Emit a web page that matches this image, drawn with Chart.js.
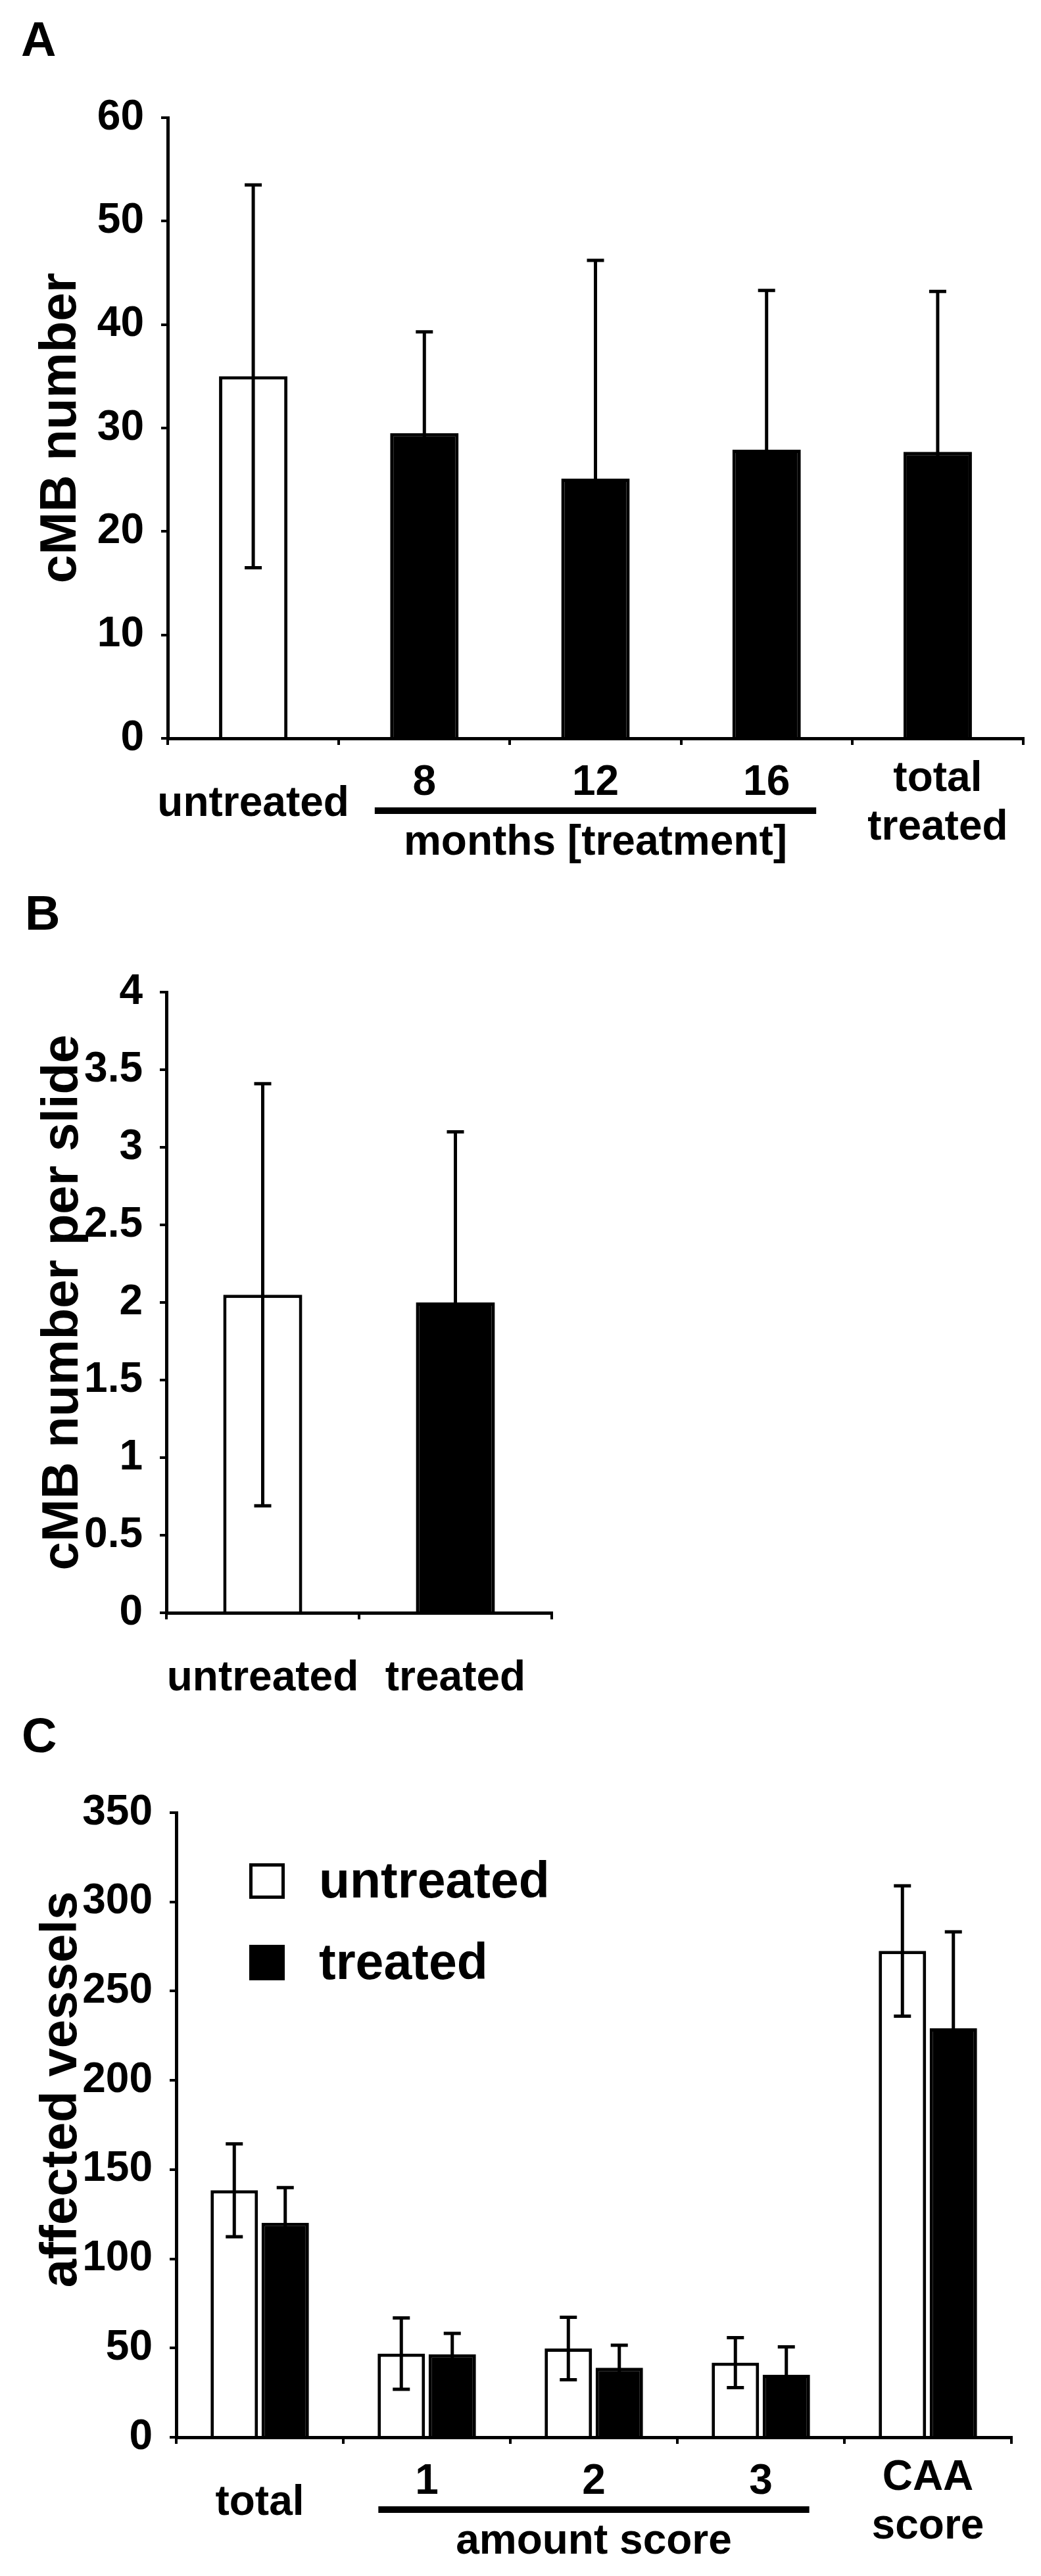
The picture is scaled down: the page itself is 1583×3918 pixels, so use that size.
<!DOCTYPE html>
<html>
<head>
<meta charset="utf-8">
<script src="https://cdn.jsdelivr.net/npm/chart.js@4.4.1/dist/chart.umd.min.js"></script>
<style>
    body { margin: 0; background: #fff; }
    #page { position: relative; width: 1583px; height: 3918px; }
    canvas { position: absolute; left: 0; }
</style>
</head>
<body>
<div id="page">
    <canvas id="chart-a" width="1583" height="1340" style="top:0"></canvas>
    <canvas id="chart-b" width="1583" height="1260" style="top:1340px"></canvas>
    <canvas id="chart-c" width="1583" height="1318" style="top:2600px"></canvas>
</div>
<script>
// Данные панели A
const categoriesA = ['untreated', '8', '12', '16', ['total', 'treated']];
const meansA = [35.0, 29.5, 25.1, 27.9, 27.7];
const sdA = [18.5, 9.8, 21.1, 15.4, 15.5];
const yTicksA = [0, 10, 20, 30, 40, 50, 60];

// Данные панели B
const categoriesB = ['untreated', 'treated'];
const meansB = [2.05, 2.0];
const sdB = [1.36, 1.1];
const yTicksB = [0, 0.5, 1, 1.5, 2, 2.5, 3, 3.5, 4];

// Данные панели C
const categoriesC = ['total', '1', '2', '3', ['CAA', 'score']];
const untreatedC = [138.4, 46.9, 49.7, 41.8, 272.5];
const untreatedSdC = [26, 20, 17.5, 14, 36.5];
const treatedC = [120.2, 46.5, 39.0, 35.0, 229.2];
const treatedSdC = [19.7, 11.7, 12.6, 15.7, 54];
const yTicksC = [0, 50, 100, 150, 200, 250, 300, 350];

const FONT = '"Liberation Sans", Arial, sans-serif';
Chart.defaults.font.family = FONT;
Chart.defaults.font.weight = 'bold';
Chart.defaults.color = '#000';

// Планки погрешностей
const errorBars = {
    id: 'errorBars',
    afterDatasetsDraw(chart) {
        const ctx = chart.ctx;
        const y = chart.scales.y;
        chart.data.datasets.forEach((ds, di) => {
            chart.getDatasetMeta(di).data.forEach((bar, i) => {
                const top = y.getPixelForValue(ds.data[i] + ds.errors[i]);
                const bottom = y.getPixelForValue(ds.data[i] - ds.errors[i]);
                ctx.save();
                ctx.strokeStyle = '#000';
                ctx.lineWidth = 5;
                ctx.beginPath();
                ctx.moveTo(bar.x, top);
                ctx.lineTo(bar.x, bottom);
                ctx.moveTo(bar.x - 13, top);
                ctx.lineTo(bar.x + 13, top);
                ctx.moveTo(bar.x - 13, bottom);
                ctx.lineTo(bar.x + 13, bottom);
                ctx.stroke();
                ctx.restore();
            });
        });
    }
};

// Подписи: буква панели, заголовок оси, категории, скобка группы, легенда
function figureText(spec) {
    return {
        id: 'figureText',
        afterDraw(chart) {
            const ctx = chart.ctx;
            const x = chart.scales.x;
            const area = chart.chartArea;
            const base = area.bottom;
            ctx.save();
            ctx.fillStyle = '#000';
            ctx.textBaseline = 'alphabetic';

            ctx.font = 'bold 74px ' + FONT;
            ctx.textAlign = 'left';
            ctx.fillText(spec.panel, spec.panelX, spec.panelY);

            ctx.save();
            ctx.font = 'bold 78px ' + FONT;
            ctx.translate(spec.titleX, (area.top + area.bottom) / 2 + spec.titleShift);
            ctx.rotate(-Math.PI / 2);
            ctx.textAlign = 'center';
            ctx.fillText(spec.yTitle, 0, 0);
            ctx.restore();

            ctx.font = 'bold 64px ' + FONT;
            ctx.textAlign = 'center';
            chart.data.labels.forEach((lab, i) => {
                const cx = x.getPixelForValue(i);
                const lines = Array.isArray(lab) ? lab : [lab];
                const inGroup = spec.group && i >= spec.group.from && i <= spec.group.to;
                if (inGroup) {
                    ctx.fillText(lines[0], cx, base + 86);
                } else if (lines.length === 2) {
                    ctx.fillText(lines[0], cx, base + 80);
                    ctx.fillText(lines[1], cx, base + 154);
                } else {
                    ctx.fillText(lines[0], cx, base + 118);
                }
            });

            if (spec.group) {
                const w = x.getPixelForValue(1) - x.getPixelForValue(0);
                const x0 = x.getPixelForValue(spec.group.from) - w / 2 + w * 0.21;
                const x1 = x.getPixelForValue(spec.group.to) + w / 2 - w * 0.21;
                ctx.fillRect(x0, base + 105, x1 - x0, 10);
                ctx.fillText(spec.group.label, (x0 + x1) / 2, base + 177);
            }

            if (spec.legend) {
                ctx.font = 'bold 77px ' + FONT;
                ctx.textAlign = 'left';
                chart.data.datasets.forEach((ds, di) => {
                    const bx = area.left + 111;
                    const by = area.top + 77 + di * 124;
                    ctx.fillStyle = ds.backgroundColor;
                    ctx.fillRect(bx, by, 54, 54);
                    ctx.strokeStyle = '#000';
                    ctx.lineWidth = 5;
                    ctx.strokeRect(bx + 2.5, by + 2.5, 49, 49);
                    ctx.fillStyle = '#000';
                    ctx.fillText(ds.label, area.left + 217, area.top + 129 + di * 124);
                });
            }
            ctx.restore();
        }
    };
}

function axisOptions(area, canvasH, yTicks) {
    const grid = {
        display: true,
        drawOnChartArea: false,
        drawTicks: true,
        tickLength: 10,
        color: '#000',
        lineWidth: 4
    };
    const border = { display: true, color: '#000', width: 5 };
    return {
        x: {
            z: 1,
            grid: Object.assign({ offset: true }, grid),
            border: border,
            ticks: { display: false },
            afterFit: s => { s.height = canvasH - area.bottom; }
        },
        y: {
            min: 0,
            max: yTicks[yTicks.length - 1],
            grid: grid,
            border: border,
            ticks: {
                padding: 26,
                color: '#000',
                font: { size: 64, weight: 'bold' },
                callback: v => String(v)
            },
            afterBuildTicks: s => { s.ticks = yTicks.map(v => ({ value: v })); },
            afterFit: s => { s.width = area.left; }
        }
    };
}

function createChart(id, area, canvasH, labels, datasets, yTicks, spec) {
    const ctx = document.getElementById(id).getContext('2d');
    return new Chart(ctx, {
        type: 'bar',
        data: { labels: labels, datasets: datasets },
        options: {
            responsive: false,
            animation: false,
            layout: { padding: { left: 0, top: area.top, right: 1583 - area.right, bottom: 0 } },
            plugins: { legend: { display: false }, tooltip: { enabled: false } },
            scales: axisOptions(area, canvasH, yTicks)
        },
        plugins: [errorBars, figureText(spec)]
    });
}

const whiteFirst = c => c.dataIndex === 0 ? '#fff' : '#000';

createChart('chart-a', { left: 255, top: 179, right: 1556, bottom: 1123 }, 1340, categoriesA, [{
    data: meansA,
    errors: sdA,
    backgroundColor: whiteFirst,
    borderColor: '#000',
    borderWidth: 5,
    barPercentage: 0.4,
    categoryPercentage: 1
}], yTicksA, {
    panel: 'A', panelX: 32, panelY: 85,
    yTitle: 'cMB number', titleX: 115, titleShift: 0,
    group: { from: 1, to: 3, label: 'months [treatment]' }
});

createChart('chart-b', { left: 253, top: 169, right: 839, bottom: 1113 }, 1260, categoriesB, [{
    data: meansB,
    errors: sdB,
    backgroundColor: whiteFirst,
    borderColor: '#000',
    borderWidth: 5,
    barPercentage: 0.41,
    categoryPercentage: 1
}], yTicksB, {
    panel: 'B', panelX: 38, panelY: 74,
    yTitle: 'cMB number per slide', titleX: 118, titleShift: 0
});

createChart('chart-c', { left: 268, top: 157, right: 1538, bottom: 1107 }, 1318, categoriesC, [{
    label: 'untreated',
    data: untreatedC,
    errors: untreatedSdC,
    backgroundColor: '#fff',
    borderColor: '#000',
    borderWidth: 5,
    barPercentage: 0.93,
    categoryPercentage: 0.61
}, {
    label: 'treated',
    data: treatedC,
    errors: treatedSdC,
    backgroundColor: '#000',
    borderColor: '#000',
    borderWidth: 5,
    barPercentage: 0.93,
    categoryPercentage: 0.61
}], yTicksC, {
    panel: 'C', panelX: 33, panelY: 65,
    yTitle: 'affected vessels', titleX: 116, titleShift: -54,
    group: { from: 1, to: 3, label: 'amount score' },
    legend: true
});
</script>
</body>
</html>
